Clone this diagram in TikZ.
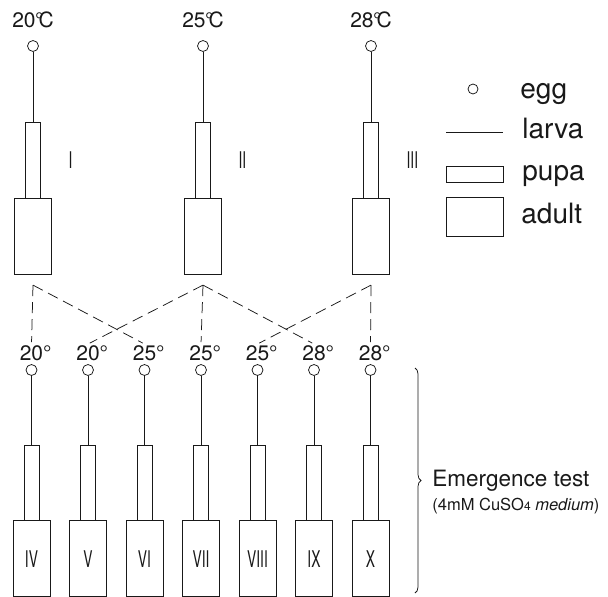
\documentclass[tikz,border=0pt]{standalone}
\usepackage{fontspec}
\setmainfont{TeX Gyre Heros}
\usepackage{tikz}
\usetikzlibrary{positioning, calc, decorations.pathreplacing}
\definecolor{inkgray}{RGB}{25, 25, 25}
\newcommand{\narrow}[1]{\scalebox{0.6}[1]{#1}}
\newcommand{\degC}{\kern-0.5pt\textdegree\kern-5pt C}

\begin{document}
\begin{tikzpicture}[x=1pt, y=-1pt, line width=0.75pt, draw=inkgray, text=inkgray,
    egg/.style={circle, draw, minimum size=11pt, inner sep=0pt},
    pupa/.style={draw, minimum width=15pt, minimum height=76pt, inner sep=0pt},
    adult/.style={draw, minimum width=37pt, minimum height=76pt, inner sep=0pt,
        font=\fontsize{23}{23}\selectfont},
    templabel/.style={font=\fontsize{21}{21}\selectfont, inner sep=1pt},
    legendtext/.style={font=\fontsize{28}{28}\selectfont, inner sep=0pt, anchor=base west},
    crossline/.style={dash pattern=on 11pt off 6pt, shorten >=2pt}]
    \fill[white] (0,0) rectangle (608,597);
    \useasboundingbox (0,0) rectangle (608,597);
    % parent strains
    \foreach \i/\x/\t/\r in {1/33/20/I, 2/203/25/II, 3/371/28/III} {
        \node[templabel] (tt\i) at (\x, 20) {\t\degC};
        \node[egg] (te\i) at (\x, 46) {};
        \node[pupa] (tp\i) at (\x, 160) {};
        \node[adult, anchor=north] (ta\i) at (tp\i.south) {};
        \draw (te\i) -- (tp\i.north);
        \node[font=\fontsize{23}{23}\selectfont, right=24pt of tp\i] (tr\i) {\narrow{\r}};
        \coordinate (x\i) at ($(ta\i.south)+(0,10)$);
    }
    % crossed strains
    \foreach \i/\t/\r in {1/20/IV, 2/20/V, 3/25/VI, 4/25/VII, 5/25/VIII, 6/28/IX, 7/28/X} {
        \pgfmathsetmacro{\x}{31.5+56.5*(\i-1)}
        \node[templabel] (bt\i) at (\x, 353) {\t\rlap{\textdegree}};
        \node[egg] (be\i) at (\x, 370) {};
        \node[pupa, minimum height=75pt] (bp\i) at (\x, 482.5) {};
        \node[adult, anchor=north] (ba\i) at (bp\i.south) {\narrow{\r}};
        \draw (be\i) -- (bp\i.north);
    }
    \draw[crossline] (x1) -- (bt1.north);
    \draw[crossline] (x1) -- (bt3.north);
    \draw[crossline] (x2) -- (bt2.north);
    \draw[crossline] (x2) -- (bt4.north);
    \draw[crossline] (x2) -- (bt6.north);
    \draw[crossline] (x3) -- (bt5.north);
    \draw[crossline] (x3) -- (bt7.north);
    % legend
    \node[egg, minimum size=10pt] (legg) at (473, 89) {};
    \node[legendtext] (tegg) at (520, 98) {egg};
    \coordinate (lv1) at (446, 132);
    \coordinate (lv2) at (503, 132);
    \draw (lv1) -- (lv2);
    \node[legendtext] (tlarva) at (522, 138) {larva};
    \node[draw, minimum width=57pt, minimum height=16pt, inner sep=0pt] (lpupa) at (474.5, 174) {};
    \node[legendtext] (tpupa) at (522, 180) {pupa};
    \node[draw, minimum width=57pt, minimum height=39pt, inner sep=0pt] (ladult) at (474.5, 216.5) {};
    \node[legendtext] (tadult) at (521, 223) {adult};
    % emergence test
    \coordinate (brtop) at (415, 368);
    \coordinate (brbot) at (415, 593);
    \draw[decorate, decoration={brace, amplitude=6pt}] (brtop) -- (brbot);
    \coordinate (brtip) at (421, 481);
    \node[font=\fontsize{22.5}{22.5}\selectfont, anchor=west, inner sep=0pt] (emg) at ($(brtip)+(11,0)$) {Emergence test};
    \node[font=\fontsize{16.5}{16.5}\selectfont, anchor=north west, inner sep=0pt] (med) at ($(emg.south west)+(0,6)$)
        {(4mM CuSO{\fontsize{12}{12}\selectfont 4} \textit{medium})};
\end{tikzpicture}
\end{document}
